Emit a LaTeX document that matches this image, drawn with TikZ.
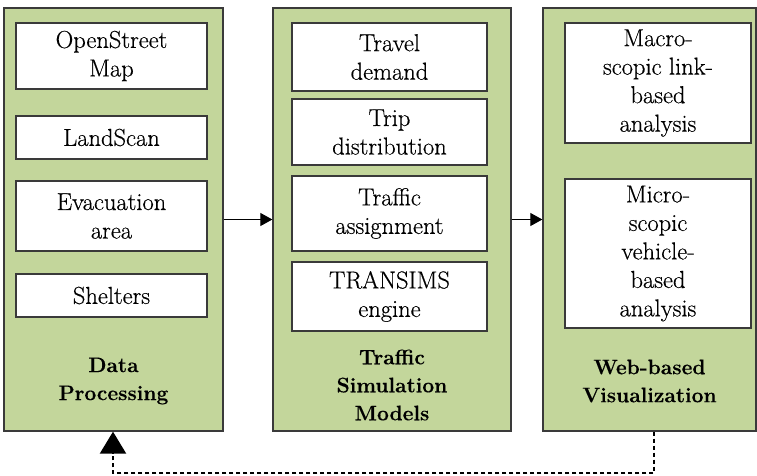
\documentclass[tikz,border=0pt]{standalone}
\usepackage{fontspec}
\setmainfont{Latin Modern Roman}[UprightFeatures={FakeBold=0.45}, BoldFeatures={FakeBold=0.35}]
\usetikzlibrary{arrows.meta}
\definecolor{panelgreen}{HTML}{C3D69B}
\definecolor{edgegray}{HTML}{3A3A3A}
\tikzset{
  panel/.style={draw=edgegray, line width=1.3pt, fill=panelgreen, rectangle, inner sep=0pt},
  inbox/.style={draw=edgegray, line width=1.1pt, fill=white, rectangle, inner sep=0pt, align=center,
    font=\fontsize{24.5}{28.5}\selectfont},
  plabel/.style={align=center, inner sep=0pt, font=\fontsize{21}{28}\selectfont\bfseries},
  arr/.style={line width=1pt, -{Triangle[length=12pt,width=13pt]}},
  fb/.style={line width=2.2pt, dash pattern=on 4pt off 3pt, -{Triangle[length=22pt,width=26pt]}}
}
\begin{document}
\begin{tikzpicture}[x=1pt,y=-1pt]
\useasboundingbox (0,0) rectangle (757,476);
% panels
\node[panel, minimum width=219pt, minimum height=423pt] (dp) at (113.5,219.5) {};
\node[panel, minimum width=238pt, minimum height=423pt] (sim) at (392,219.5) {};
\node[panel, minimum width=213pt, minimum height=423pt] (vis) at (649.5,219.5) {};
% data processing boxes
\node[inbox, minimum width=191pt, minimum height=66pt] (osm) at (111.5,56) {OpenStreet\\Map};
\node[inbox, minimum width=191pt, minimum height=43pt] (ls) at (111.5,137.5) {LandScan};
\node[inbox, minimum width=191pt, minimum height=70pt] (ev) at (111.5,216) {Evacuation\\area};
\node[inbox, minimum width=191pt, minimum height=43pt] (sh) at (111.5,295.5) {Shelters};
\node[plabel] (dpl) at (113.5,381) {Data\\Processing};
% simulation boxes
\node[inbox, minimum width=195pt, minimum height=68pt] (td) at (389.5,57) {Travel\\demand};
\node[inbox, minimum width=195pt, minimum height=66pt] (tr) at (389.5,132) {Trip\\distribution};
\node[inbox, minimum width=195pt, minimum height=75pt] (ta) at (389.5,213.5) {Traffic\\assignment};
\node[inbox, minimum width=195pt, minimum height=69pt] (te) at (389.5,296.5) {TRANSIMS\\engine};
\node[plabel] (siml) at (392,385) {Traffic\\Simulation\\Models};
% visualization boxes
\node[inbox, minimum width=186pt, minimum height=120pt] (ma) at (658,83) {Macro-\\scopic link-\\based\\analysis};
\node[inbox, minimum width=186pt, minimum height=149pt] (mi) at (658,253.5) {Micro-\\scopic\\vehicle-\\based\\analysis};
\node[plabel] (visl) at (649.5,381) {Web-based\\Visualization};
% connectors
\draw[arr] (dp) -- (sim);
\draw[arr] (sim) -- (vis);
\coordinate (c1) at (654,473);
\coordinate (c2) at (113,473);
\draw[fb] (vis.south -| c1) -- (c1) -- (c2) -- (dp.south -| c2);
\end{tikzpicture}
\end{document}
